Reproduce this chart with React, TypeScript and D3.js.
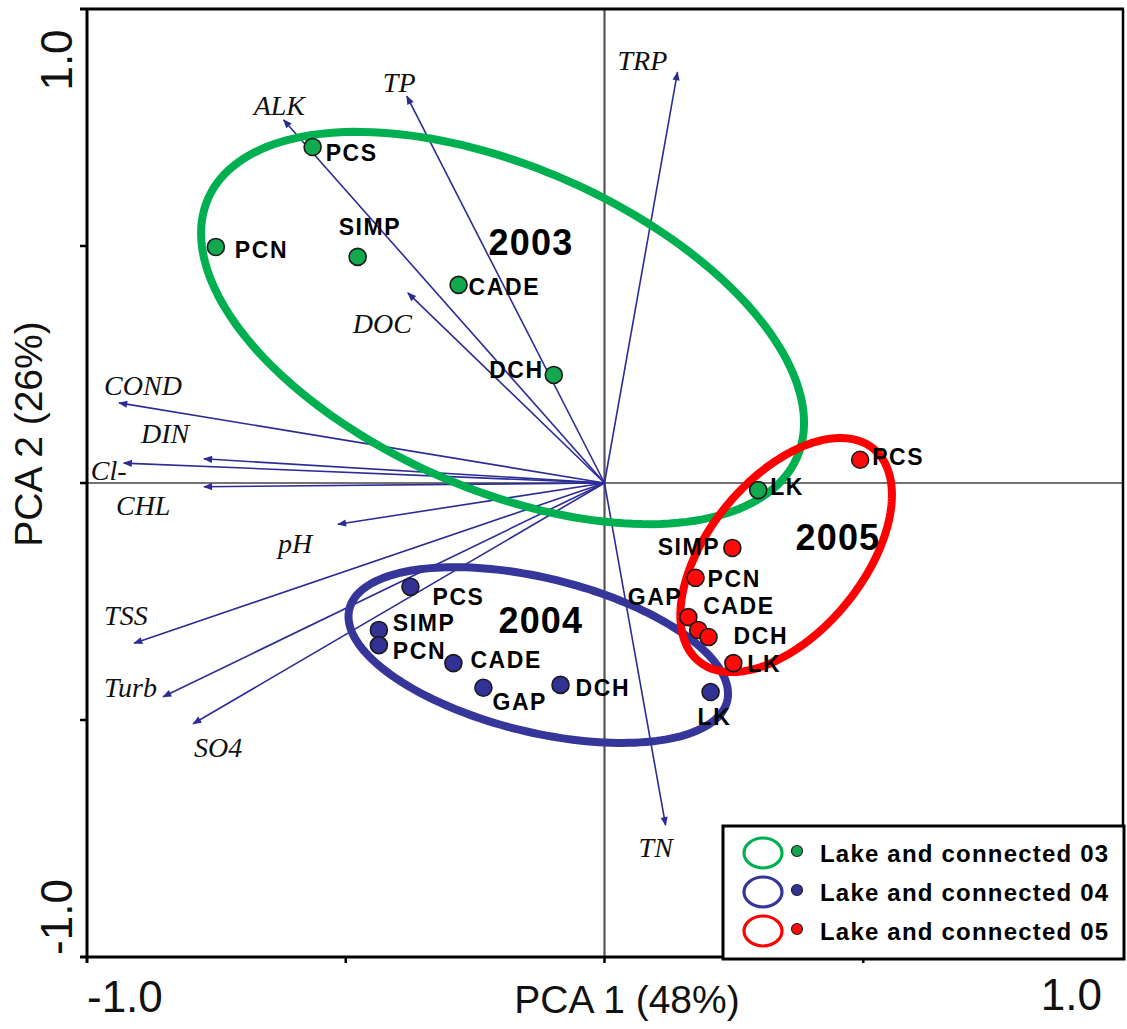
import React from 'react';
import * as d3 from 'd3';

const W = 1127;
const H = 1029;

// ---- Data ----
const variables = ['TRP', 'TP', 'ALK', 'DOC', 'COND', 'DIN', 'Cl-', 'CHL', 'pH', 'TSS', 'Turb', 'SO4', 'TN'];
const loadX = [0.141, -0.382, -0.62, -0.38, -0.938, -0.774, -0.929, -0.774, -0.515, -0.909, -0.853, -0.795, 0.118];
const loadY = [0.867, 0.816, 0.766, 0.401, 0.169, 0.051, 0.042, -0.008, -0.087, -0.338, -0.451, -0.508, -0.722];

const years = ['2003', '2004', '2005'];
const sites03 = ['PCS', 'PCN', 'SIMP', 'CADE', 'DCH', 'LK'];
const pc1_03 = [-0.564, -0.751, -0.477, -0.282, -0.098, 0.297];
const pc2_03 = [0.709, 0.498, 0.477, 0.418, 0.228, -0.015];

const sites04 = ['PCS', 'SIMP', 'PCN', 'CADE', 'GAP', 'DCH', 'LK'];
const pc1_04 = [-0.375, -0.436, -0.436, -0.292, -0.234, -0.085, 0.205];
const pc2_04 = [-0.219, -0.31, -0.342, -0.38, -0.432, -0.426, -0.441];

const sites05 = ['PCS', 'SIMP', 'PCN', 'GAP', 'CADE', 'DCH', 'LK'];
const pc1_05 = [0.494, 0.247, 0.176, 0.162, 0.181, 0.201, 0.249];
const pc2_05 = [0.049, -0.137, -0.2, -0.283, -0.31, -0.325, -0.38];

// ellipse: centre and two conjugate semi-axis vectors (data units)
const ellCenterX = [-0.197, -0.128, 0.351];
const ellCenterY = [0.327, -0.363, -0.152];
const ellMajor = [[0.569, -0.273], [0.365, -0.097], [0.169, 0.224]];
const ellMinor = [[-0.125, -0.311], [-0.035, -0.158], [0.115, -0.104]];

const yearLabelX = [-0.224, -0.205, 0.369];
const yearLabelY = [0.509, -0.289, -0.114];

const legendLabels = ['Lake and connected 03', 'Lake and connected 04', 'Lake and connected 05'];
const xTickLabels = ['-1.0', '1.0'];
const yTickLabels = ['-1.0', '1.0'];
const xTitle = 'PCA 1 (48%)';
const yTitle = 'PCA 2 (26%)';

// ---- Layout (label offsets in px) ----
const varLabelOff: [number, number][] = [
  [-60, -2], [-24, -4], [-30, -5], [-55, 40], [-15, -8], [-63, -16], [-33, 17],
  [-88, 28], [-60, 29], [-30, -18], [-59, 0], [1, 33], [-27, 32],
];
const lab03: [number, number, string][] = [[13, 6, 'start'], [19, 3, 'start'], [-19, -30, 'start'], [10, 2, 'start'], [-10, -5, 'end'], [12, -3, 'start']];
const lab04: [number, number, string][] = [[22, 10, 'start'], [14, -7, 'start'], [14, 6, 'start'], [17, -3, 'start'], [9, 14, 'start'], [15, 3, 'start'], [-13, 25, 'start']];
const lab05: [number, number, string][] = [[12, -3, 'start'], [-12, -1, 'end'], [12, 1, 'start'], [-6, -20, 'end'], [5, -24, 'start'], [25, -1, 'start'], [14, 1, 'start']];

const ellColors = ['#00b050', '#35359a', '#ff0000'];
const dotColors = ['#12a84e', '#323296', '#ff0a0a'];
const arrowColor = '#2c2c96';

const x = d3.scaleLinear().domain([-1, 1]).range([87, 1122]);
const y = d3.scaleLinear().domain([-1, 1]).range([957, 9]);

const sansBold = { fontFamily: 'Liberation Sans, Arial, sans-serif', fontWeight: 700 } as const;

function ellipsePath(i: number) {
  const pts: [number, number][] = d3.range(0, 180).map((k) => {
    const t = (k / 180) * Math.PI * 2;
    const dx = ellCenterX[i] + ellMajor[i][0] * Math.cos(t) + ellMinor[i][0] * Math.sin(t);
    const dy = ellCenterY[i] + ellMajor[i][1] * Math.cos(t) + ellMinor[i][1] * Math.sin(t);
    return [x(dx), y(dy)];
  });
  return d3.line().curve(d3.curveLinearClosed)(pts) as string;
}

export default function App() {
  const groups = [
    { sites: sites03, px: pc1_03, py: pc2_03, lab: lab03 },
    { sites: sites04, px: pc1_04, py: pc2_04, lab: lab04 },
    { sites: sites05, px: pc1_05, py: pc2_05, lab: lab05 },
  ];
  const ox = x(0);
  const oy = y(0);
  return (
    <svg width={W} height={H} style={{ position: 'absolute', left: 0, top: 0, background: '#fff' }}>
      <defs>
        <marker id="ah" viewBox="0 0 10 10" refX="9" refY="5" markerWidth="11" markerHeight="9" markerUnits="userSpaceOnUse" orient="auto">
          <path d="M0,1 L10,5 L0,9 Z" fill={arrowColor} />
        </marker>
      </defs>

      {/* centre lines */}
      <line x1={ox} x2={ox} y1={y(1)} y2={y(-1)} stroke="#555" strokeWidth={2.2} />
      <line x1={x(-1)} x2={x(1)} y1={oy} y2={oy} stroke="#444" strokeWidth={1.4} />

      {/* loading arrows */}
      {variables.map((v, i) => (
        <g key={v}>
          <line x1={ox} y1={oy} x2={x(loadX[i])} y2={y(loadY[i])} stroke={arrowColor} strokeWidth={1.6} markerEnd="url(#ah)" />
          <text
            x={x(loadX[i]) + varLabelOff[i][0]}
            y={y(loadY[i]) + varLabelOff[i][1]}
            fontFamily="Liberation Serif, Times New Roman, serif"
            fontStyle="italic"
            fontSize={28}
            fill="#111"
          >
            {v}
          </text>
        </g>
      ))}

      {/* ellipses */}
      {years.map((yr, i) => (
        <path key={yr} d={ellipsePath(i)} fill="none" stroke={ellColors[i]} strokeWidth={8} />
      ))}

      {/* year labels */}
      {years.map((yr, i) => (
        <text key={'yl' + yr} x={x(yearLabelX[i])} y={y(yearLabelY[i])} dy="0.36em" fontSize={36} letterSpacing={1.2} {...sansBold} fill="#000">
          {yr}
        </text>
      ))}

      {/* sample points */}
      {groups.map((g, gi) => (
        <g key={'g' + gi}>
          {g.sites.map((s, i) => (
            <circle key={s + i} cx={x(g.px[i])} cy={y(g.py[i])} r={8.5} fill={dotColors[gi]} stroke="#1a1a1a" strokeWidth={1.6} />
          ))}
          {g.sites.map((s, i) => (
            <text
              key={'t' + s + i}
              x={x(g.px[i]) + g.lab[i][0]}
              y={y(g.py[i]) + g.lab[i][1]}
              dy="0.36em"
              textAnchor={g.lab[i][2] as any}
              fontSize={23}
              letterSpacing={1.6}
              {...sansBold}
              fill="#000"
            >
              {s}
            </text>
          ))}
        </g>
      ))}

      {/* frame */}
      <line x1={80} x2={1124} y1={9} y2={9} stroke="#000" strokeWidth={3} />
      <line x1={1123} x2={1123} y1={9} y2={958} stroke="#000" strokeWidth={2.5} />
      <line x1={87} x2={87} y1={8} y2={963} stroke="#000" strokeWidth={3} />
      <line x1={80} x2={1124} y1={957} y2={957} stroke="#000" strokeWidth={3} />
      {[-0.5, 0, 0.5].map((t) => (
        <line key={'yt' + t} x1={80} x2={87} y1={y(t)} y2={y(t)} stroke="#000" strokeWidth={2.5} />
      ))}
      {[-0.5, 0, 0.5].map((t) => (
        <line key={'xt' + t} x1={x(t)} x2={x(t)} y1={957} y2={963} stroke="#000" strokeWidth={2.5} />
      ))}

      {/* tick labels */}
      <text x={x(-1)} y={1012} fontSize={44} fontFamily="Liberation Sans, Arial, sans-serif" fill="#111">{xTickLabels[0]}</text>
      <text x={1102} y={1010} textAnchor="end" fontSize={44} fontFamily="Liberation Sans, Arial, sans-serif" fill="#111">{xTickLabels[1]}</text>
      <text transform="translate(72,60) rotate(-90)" textAnchor="middle" fontSize={44} fontFamily="Liberation Sans, Arial, sans-serif" fill="#111">{yTickLabels[1]}</text>
      <text transform="translate(72,917) rotate(-90)" textAnchor="middle" fontSize={44} fontFamily="Liberation Sans, Arial, sans-serif" fill="#111">{yTickLabels[0]}</text>

      {/* axis titles */}
      <text x={627} y={1013} textAnchor="middle" fontSize={39} fontFamily="Liberation Sans, Arial, sans-serif" fill="#111">{xTitle}</text>
      <text transform="translate(42,434) rotate(-90)" textAnchor="middle" fontSize={39} fontFamily="Liberation Sans, Arial, sans-serif" fill="#111">{yTitle}</text>

      {/* legend */}
      <rect x={723} y={826} width={401} height={133} fill="#fff" stroke="#000" strokeWidth={3} />
      {legendLabels.map((l, i) => {
        const cy = 853 + i * 39;
        return (
          <g key={l}>
            <ellipse cx={763} cy={cy} rx={19} ry={15} fill="none" stroke={ellColors[i]} strokeWidth={3.2} />
            <circle cx={797} cy={cy - 2} r={5.5} fill={dotColors[i]} stroke="#222" strokeWidth={1.2} />
            <text x={820} y={cy} dy="0.36em" fontSize={24} letterSpacing={1.2} {...sansBold} fill="#000">{l}</text>
          </g>
        );
      })}
    </svg>
  );
}
